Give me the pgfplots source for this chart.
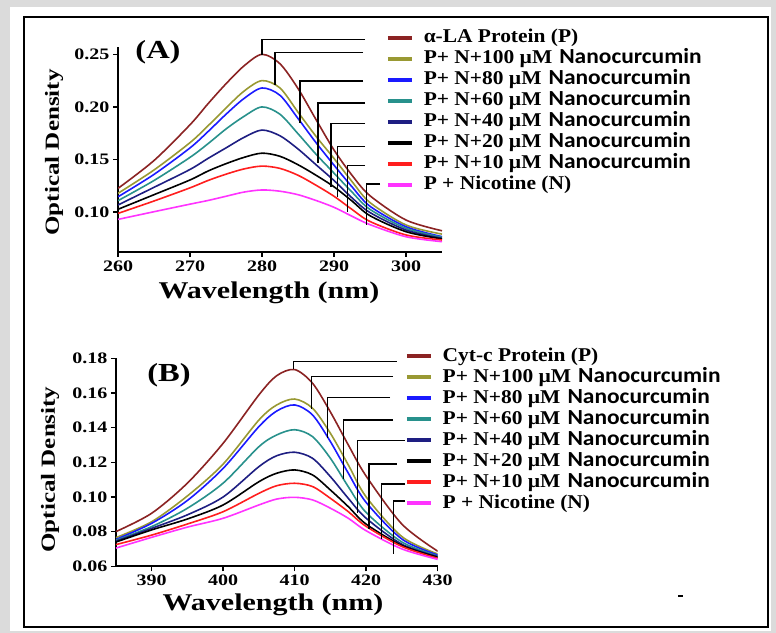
\documentclass[border=0pt]{standalone}
\usepackage{fontspec}
\setmainfont[FakeStretch=1.25]{Liberation Serif}
\newfontfamily\legserif[FakeStretch=1.1]{Liberation Serif}
\newfontfamily\carlito[FakeStretch=1.09]{Carlito}
\usepackage{pgfplots}
\pgfplotsset{compat=1.18}
\definecolor{brownc}{RGB}{139,35,35}
\definecolor{olivec}{RGB}{153,153,51}
\definecolor{bluec}{RGB}{26,26,255}
\definecolor{tealc}{RGB}{40,145,140}
\definecolor{navyc}{RGB}{30,30,130}
\definecolor{redc}{RGB}{255,30,30}
\definecolor{magc}{RGB}{255,51,255}
\newcommand\tickfont{\fontsize{16bp}{19bp}\selectfont\bfseries}
\newcommand\legfont{\legserif\fontsize{19.5bp}{21bp}\selectfont\bfseries}
\newcommand\nano{\hspace{7bp}{\carlito\bfseries\fontsize{21.5bp}{21bp}\selectfont Nanocurcumin}}
\pgfplotsset{
  panel/.style={
    scale only axis,
    axis lines=left,
    axis line style={line width=1.8bp,-},
    tick align=outside,
    major tick length=5bp,
    tick style={line width=1.4bp,black},
    ticklabel style={font=\tickfont},
    /pgf/number format/assume math mode=true,
    yticklabel style={/pgf/number format/.cd,fixed,fixed zerofill,precision=2},
    xticklabel style={/pgf/number format/1000 sep={}},
    every axis plot/.append style={line width=1.6bp,smooth,no markers},
    legend cell align=left,
    legend image code/.code={\draw[##1,line width=3.8bp] (0bp,5bp) -- (24bp,5bp);},
    legend style={draw=none,fill=none,font=\legfont,inner sep=0pt,outer sep=0pt,
      row sep=0bp,column sep=10bp,
      nodes={inner sep=0pt,text height=14bp,text depth=7bp,anchor=base west}},
  }
}
\begin{document}
\begin{tikzpicture}[x=1bp,y=1bp]
\begin{scope}[shift={(0,633)},yscale=-1]
\fill[gray!28] (0,0) rectangle (776,633);
\fill[white] (10,7) rectangle (771,631);
\draw[black,line width=2.2bp,fill=white] (24,17) rectangle (768,627);
\end{scope}

% ---------------- Panel A ----------------
\begin{axis}[panel,
  at={(118bp,381bp)},anchor=south west,
  width=324bp,height=205bp,
  xmin=260,xmax=305,ymin=0.062,ymax=0.257,
  xtick={260,270,280,290,300},
  ytick={0.10,0.15,0.20,0.25},
  legend style={at={(0.827,1.088)},anchor=north west},
]
\addplot[brownc] coordinates {(260,0.1225)(265,0.149)(270,0.183)(272.5,0.203)(275,0.222)(277.5,0.239)(280,0.250)(282.5,0.241)(285,0.2175)(287.5,0.188)(290,0.159)(292.5,0.135)(295,0.1155)(300,0.0924)(305,0.0822)};
\addplot[olivec] coordinates {(260,0.1178)(265,0.140)(270,0.166)(272.5,0.182)(275,0.199)(277.5,0.215)(280,0.225)(282.5,0.218)(285,0.195)(287.5,0.172)(290,0.151)(292.5,0.129)(295,0.109)(300,0.0877)(305,0.079)};
\addplot[bluec] coordinates {(260,0.1145)(265,0.1358)(270,0.161)(272.5,0.1765)(275,0.193)(277.5,0.208)(280,0.218)(282.5,0.211)(285,0.189)(287.5,0.166)(290,0.1446)(292.5,0.124)(295,0.1055)(300,0.086)(305,0.0766)};
\addplot[tealc] coordinates {(260,0.1108)(265,0.130)(270,0.152)(272.5,0.165)(275,0.179)(277.5,0.191)(280,0.200)(282.5,0.193)(285,0.1745)(287.5,0.155)(290,0.137)(292.5,0.119)(295,0.1025)(300,0.0845)(305,0.076)};
\addplot[navyc] coordinates {(260,0.1067)(265,0.1235)(270,0.1405)(272.5,0.151)(275,0.161)(277.5,0.171)(280,0.178)(282.5,0.1725)(285,0.160)(287.5,0.145)(290,0.130)(292.5,0.1135)(295,0.0995)(300,0.0829)(305,0.075)};
\addplot[black] coordinates {(260,0.1026)(265,0.1165)(270,0.1305)(272.5,0.139)(275,0.146)(277.5,0.152)(280,0.156)(282.5,0.153)(285,0.145)(287.5,0.135)(290,0.124)(292.5,0.1105)(295,0.0965)(300,0.0813)(305,0.0744)};
\addplot[redc] coordinates {(260,0.0987)(265,0.1105)(270,0.123)(272.5,0.130)(275,0.136)(277.5,0.141)(280,0.1437)(282.5,0.1415)(285,0.135)(287.5,0.1255)(290,0.115)(292.5,0.1025)(295,0.091)(300,0.0782)(305,0.0734)};
\addplot[magc] coordinates {(260,0.093)(265,0.1003)(270,0.1075)(272.5,0.111)(275,0.115)(277.5,0.119)(280,0.121)(282.5,0.1198)(285,0.1165)(287.5,0.111)(290,0.1045)(292.5,0.096)(295,0.088)(300,0.0765)(305,0.0718)};
\legend{α-LA Protein (P),
  P+ N+100 µM\nano,
  P+ N+80 µM\nano,
  P+ N+60 µM\nano,
  P+ N+40 µM\nano,
  P+ N+20 µM\nano,
  P+ N+10 µM\nano,
  P + Nicotine (N)}
\end{axis}

% ---------------- Panel B ----------------
\begin{axis}[panel,
  at={(115.9bp,66.7bp)},anchor=south west,
  width=321.8bp,height=208bp,
  xmin=385,xmax=430,ymin=0.06,ymax=0.18,
  xtick={390,400,410,420,430},
  ytick={0.06,0.08,0.10,0.12,0.14,0.16,0.18},
  legend style={at={(0.898,1.054)},anchor=north west},
]
\addplot[brownc] coordinates {(385,0.080)(390,0.0906)(395,0.108)(400,0.131)(405,0.1589)(407.5,0.170)(410,0.1735)(412.5,0.1656)(415,0.149)(417.5,0.130)(420,0.112)(425,0.0843)(430,0.0687)};
\addplot[olivec] coordinates {(385,0.0765)(390,0.0857)(395,0.1006)(400,0.119)(405,0.1444)(407.5,0.1531)(410,0.1565)(412.5,0.1512)(415,0.1367)(417.5,0.1185)(420,0.100)(425,0.0771)(430,0.0671)};
\addplot[bluec] coordinates {(385,0.0755)(390,0.0848)(395,0.098)(400,0.1165)(405,0.1406)(407.5,0.1496)(410,0.1531)(412.5,0.1473)(415,0.1319)(417.5,0.1137)(420,0.0968)(425,0.0757)(430,0.0665)};
\addplot[tealc] coordinates {(385,0.075)(390,0.0829)(395,0.0935)(400,0.108)(405,0.129)(407.5,0.1358)(410,0.1388)(412.5,0.1348)(415,0.1223)(417.5,0.1059)(420,0.091)(425,0.074)(430,0.0659)};
\addplot[navyc] coordinates {(385,0.0745)(390,0.0819)(395,0.0897)(400,0.100)(405,0.1175)(407.5,0.1238)(410,0.1258)(412.5,0.1223)(415,0.1117)(417.5,0.0992)(420,0.0877)(425,0.0727)(430,0.0656)};
\addplot[black] coordinates {(385,0.074)(390,0.081)(395,0.0873)(400,0.0954)(405,0.1088)(407.5,0.1137)(410,0.1156)(412.5,0.1127)(415,0.104)(417.5,0.0944)(420,0.0843)(425,0.072)(430,0.0652)};
\addplot[redc] coordinates {(385,0.0725)(390,0.078)(395,0.0844)(400,0.0915)(405,0.1021)(407.5,0.1065)(410,0.1079)(412.5,0.106)(415,0.0992)(417.5,0.0915)(420,0.083)(425,0.0714)(430,0.0646)};
\addplot[magc] coordinates {(385,0.0705)(390,0.0767)(395,0.0826)(400,0.0877)(405,0.0954)(407.5,0.0988)(410,0.0998)(412.5,0.0983)(415,0.0935)(417.5,0.0877)(420,0.0805)(425,0.070)(430,0.064)};
\legend{Cyt-c Protein (P),
  P+ N+100 µM\nano,
  P+ N+80 µM\nano,
  P+ N+60 µM\nano,
  P+ N+40 µM\nano,
  P+ N+20 µM\nano,
  P+ N+10 µM\nano,
  P + Nicotine (N)}
\end{axis}

\begin{scope}[shift={(0,633)},yscale=-1,line width=1.1bp,black]
% leader lines A
\draw (365,39.3) -- (262,39.3) -- (262,55);
\draw (363,52.3) -- (275,52.3) -- (275,85);
\draw (363,81) -- (300,81) -- (300,123);
\draw (365,103) -- (318,103) -- (318,163);
\draw (365,123.3) -- (331,123.3) -- (331,187);
\draw (365,146.7) -- (337.7,146.7) -- (337.7,197);
\draw (365,165.7) -- (347.3,165.7) -- (347.3,211.7);
\draw (380,184) -- (366.7,184) -- (366.7,225);
% leader lines B
\draw (396.7,361.7) -- (293.3,361.7) -- (293.3,369.3);
\draw (393,376.7) -- (311.7,376.7) -- (311.7,409);
\draw (390,397.7) -- (327.3,397.7) -- (327.3,438.3);
\draw (393,420) -- (343.3,420) -- (343.3,479.3);
\draw (405,440.7) -- (357.7,440.7) -- (357.7,513.3);
\draw (396.7,464) -- (369,464) -- (369,529.3);
\draw (405,484) -- (381.7,484) -- (381.7,539.3);
\draw (405,501) -- (393.3,501) -- (393.3,554);
\draw (678,596) -- (683,596);
% labels
\node[rotate=90,font=\fontsize{20bp}{24bp}\selectfont\bfseries] at (54,152.5) {Optical Density};
\node[font=\fontsize{24bp}{27bp}\selectfont\bfseries] at (269,293) {Wavelength (nm)};
\node[font=\fontsize{26bp}{29bp}\selectfont\bfseries] at (158,52) {(A)};
\node[rotate=90,font=\fontsize{20bp}{24bp}\selectfont\bfseries] at (50,469.5) {Optical Density};
\node[font=\fontsize{24bp}{27bp}\selectfont\bfseries] at (273,605) {Wavelength (nm)};
\node[font=\fontsize{26bp}{29bp}\selectfont\bfseries] at (169,375) {(B)};
\end{scope}
\end{tikzpicture}
\end{document}
